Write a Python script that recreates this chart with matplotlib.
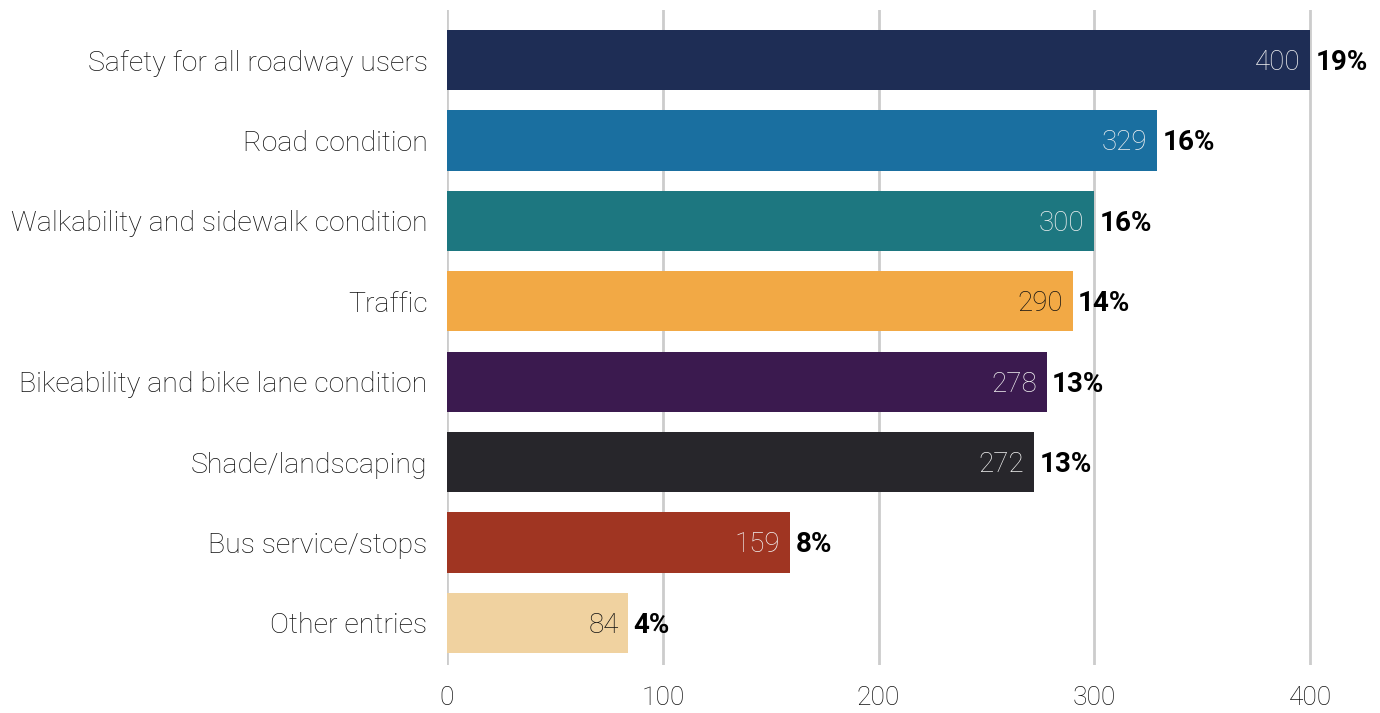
import matplotlib
matplotlib.use("Agg")
import matplotlib.pyplot as plt

categories = [
    "Safety for all roadway users",
    "Road condition",
    "Walkability and sidewalk condition",
    "Traffic",
    "Bikeability and bike lane condition",
    "Shade/landscaping",
    "Bus service/stops",
    "Other entries",
]
counts = [400, 329, 300, 290, 278, 272, 159, 84]
shares = ["19%", "16%", "16%", "14%", "13%", "13%", "8%", "4%"]
bar_colors = ["#1e2d55", "#1a6fa0", "#1d7780", "#f2a945",
              "#3b1a4f", "#27262b", "#a03522", "#f0d2a0"]
inner_text_colors = ["#f2f2f2", "#f2f2f2", "#f2f2f2", "#111111",
                     "#f2f2f2", "#f2f2f2", "#f2f2f2", "#111111"]
ticks = [0, 100, 200, 300, 400]

plt.rcParams["font.family"] = ["Roboto", "DejaVu Sans"]
LABEL_WEIGHT = "light"

fig = plt.figure(figsize=(13.8, 7.13), dpi=100)
ax = fig.add_axes([447 / 1380, 48 / 713, (1372 - 447) / 1380, (703 - 48) / 713])

y = list(range(len(categories)))
ax.barh(y, counts, height=0.75, color=bar_colors, zorder=3)

for i, (v, s) in enumerate(zip(counts, shares)):
    ax.text(v - 4.5, i + 0.03, str(v), ha="right", va="center",
            fontsize=20, fontweight=LABEL_WEIGHT, color=inner_text_colors[i], zorder=4)
    ax.text(v + 2.5, i + 0.03, s, ha="left", va="center",
            fontsize=20, fontweight="bold", color="black", zorder=4)

ax.set_xlim(0, (1372 - 447) / 2.1575)
ax.set_ylim(7 + 42 / 80.4, -50 / 80.4)
ax.set_xticks(ticks)
ax.set_yticks(y)
ax.set_yticklabels(categories, fontsize=20.5, fontweight=LABEL_WEIGHT, color="#111111")
ax.set_xticklabels([str(t) for t in ticks], fontsize=19, fontweight=LABEL_WEIGHT, color="#111111")
ax.tick_params(axis="both", length=0)
ax.tick_params(axis="y", pad=14)
ax.tick_params(axis="x", pad=15)
ax.grid(axis="x", color="#cccccc", linewidth=2, zorder=0)
for sp in ax.spines.values():
    sp.set_visible(False)

fig.savefig("out.png", dpi=100)
